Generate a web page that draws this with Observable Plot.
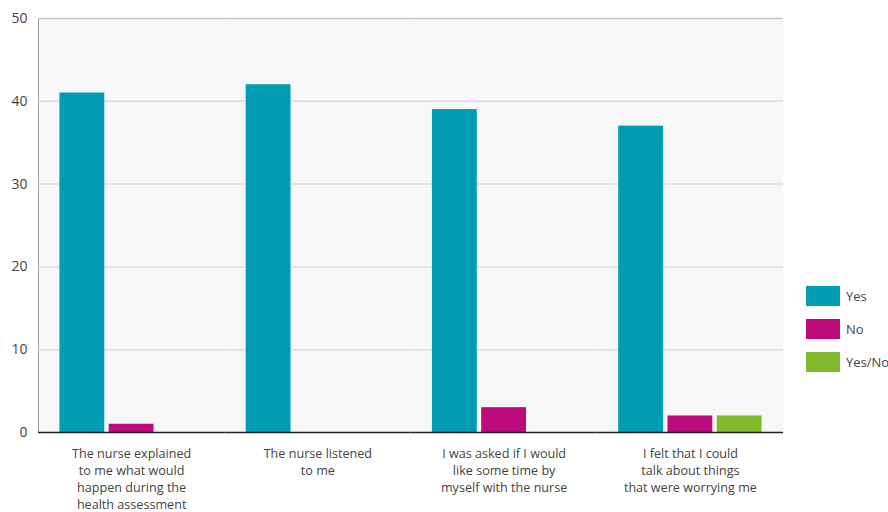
<!DOCTYPE html>
<html>
<head>
<meta charset="utf-8">
<script src="https://cdn.jsdelivr.net/npm/d3@7"></script>
<script src="https://cdn.jsdelivr.net/npm/@observablehq/plot@0.6"></script>
<style>
  html, body { margin: 0; padding: 0; background: #fff; }
  #wrap { position: relative; width: 888px; height: 512px; font-family: "Open Sans", sans-serif; }
  .legend { position: absolute; left: 806px; top: 286px; }
  .legend .item { display: flex; align-items: center; height: 20px; margin-bottom: 13px; font-size: 13px; color: #444; }
  .legend .sw { width: 34px; height: 20px; margin-right: 6px; }
</style>
</head>
<body>
<div id="wrap"></div>
<script>
// Survey questions (x categories) with their wrapped labels
const questions = [
  "The nurse explained\nto me what would\nhappen during the\nhealth assessment",
  "The nurse listened\nto me",
  "I was asked if I would\nlike some time by\nmyself with the nurse",
  "I felt that I could\ntalk about things\nthat were worrying me"
];
const answers = ["Yes", "No", "Yes/No"];
const answerColors = ["#009cb4", "#be0b7b", "#84b92e"];

// Number of responses per question
const yesCounts   = [41, 42, 39, 37];
const noCounts    = [1, 0, 3, 2];
const yesNoCounts = [0, 0, 0, 2];

const yTicks = [0, 10, 20, 30, 40, 50];

const series = [yesCounts, noCounts, yesNoCounts];
const rows = [];
questions.forEach((q, i) => {
  answers.forEach((a, j) => {
    rows.push({question: q, answer: a, count: series[j][i]});
  });
});
const bars = rows.filter(d => d.count > 0);
const labelRows = questions.map(q => ({question: q}));

const chart = Plot.plot({
  width: 888,
  height: 512,
  marginLeft: 38,
  marginRight: 105,
  marginTop: 18,
  marginBottom: 80,
  style: {fontFamily: "'Open Sans', sans-serif", fontSize: "14px", color: "#444", background: "transparent"},
  fx: {domain: questions, padding: 0, round: false, axis: null},
  x: {domain: answers, paddingInner: 0.09, paddingOuter: 0.435, round: false, axis: null},
  y: {domain: [0, 50], ticks: yTicks, tickSize: 0, tickPadding: 11, line: true, label: null},
  color: {domain: answers, range: answerColors},
  marks: [
    Plot.frame({fill: "#f7f7f7", stroke: null}),
    Plot.ruleY(yTicks.filter(t => t > 0 && t < 50), {stroke: "#dcdcdc", strokeWidth: 1.5}),
    Plot.ruleY([50], {stroke: "#c6c6c6", strokeWidth: 1.5}),
    Plot.barY(bars, {fx: "question", x: "answer", y: "count", fill: "answer"}),
    Plot.ruleY([0], {stroke: "#222", strokeWidth: 1.5}),
    Plot.text(labelRows, {
      fx: "question", text: "question", frameAnchor: "bottom", dy: 13,
      lineAnchor: "top", lineHeight: 1.36, fontSize: 12.6, fill: "#444"
    })
  ]
});

const wrap = document.getElementById("wrap");
wrap.appendChild(chart);

// Legend
const legend = document.createElement("div");
legend.className = "legend";
answers.forEach((a, i) => {
  const item = document.createElement("div");
  item.className = "item";
  const sw = document.createElement("div");
  sw.className = "sw";
  sw.style.background = answerColors[i];
  const lab = document.createElement("span");
  lab.textContent = a;
  item.appendChild(sw);
  item.appendChild(lab);
  legend.appendChild(item);
});
wrap.appendChild(legend);
</script>
</body>
</html>
